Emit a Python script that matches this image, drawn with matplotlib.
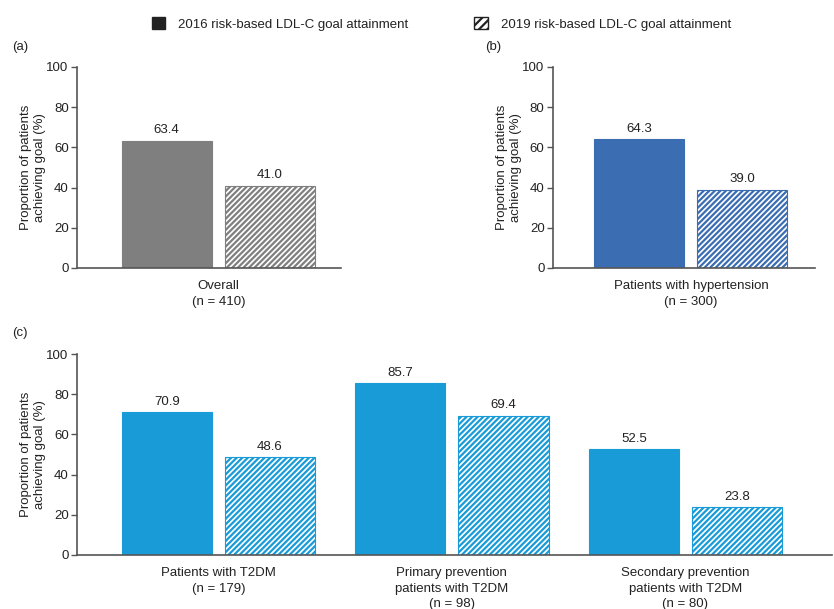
import numpy as np
import matplotlib
matplotlib.use("Agg")
import matplotlib.pyplot as plt
from matplotlib.patches import Patch

plt.rcParams['font.family'] = ['Liberation Sans', 'DejaVu Sans']
plt.rcParams['hatch.linewidth'] = 1.6

# data
labels_a = ["Overall\n(n = 410)"]
vals_2016_a = [63.4]
vals_2019_a = [41.0]

labels_b = ["Patients with hypertension\n(n = 300)"]
vals_2016_b = [64.3]
vals_2019_b = [39.0]

labels_c = ["Patients with T2DM\n(n = 179)",
            "Primary prevention\npatients with T2DM\n(n = 98)",
            "Secondary prevention\npatients with T2DM\n(n = 80)"]
vals_2016_c = [70.9, 85.7, 52.5]
vals_2019_c = [48.6, 69.4, 23.8]

legend_labels = ["2016 risk-based LDL-C goal attainment",
                 "2019 risk-based LDL-C goal attainment"]

FS = 9.5
TXT = '#222222'
AX = '#555555'


def draw_panel(ax, labels, v16, v19, color, xlim, spacing=2.33):
    x = np.arange(len(labels)) * spacing
    w = 0.9
    off = 0.515
    b1 = ax.bar(x - off, v16, w, color=color, edgecolor=color, linewidth=0.8)
    b2 = ax.bar(x + off, v19, w, color='white', edgecolor=color,
                hatch='//////', linewidth=0.8)
    for bars in (b1, b2):
        ax.bar_label(bars, fmt='%.1f', padding=3, fontsize=FS, color=TXT)
    ax.set_xlim(*xlim)
    ax.set_ylim(0, 100)
    ax.set_yticks([0, 20, 40, 60, 80, 100])
    ax.set_xticks(x)
    ax.set_xticklabels(labels, fontsize=FS, color=TXT, linespacing=1.35)
    ax.tick_params(axis='x', length=0, pad=9)
    ax.tick_params(axis='y', labelsize=FS, labelcolor=TXT, color=AX,
                   length=4, width=1, pad=2)
    for s in ('top', 'right'):
        ax.spines[s].set_visible(False)
    for s in ('left', 'bottom'):
        ax.spines[s].set_color(AX)
        ax.spines[s].set_linewidth(1.2)
    ax.set_ylabel("Proportion of patients\nachieving goal (%)", fontsize=FS,
                  color=TXT, labelpad=0, linespacing=1.25)


fig = plt.figure(figsize=(8.34, 6.09), dpi=100)

ax_a = fig.add_axes([0.0923, 0.560, 0.316, 0.330])
ax_b = fig.add_axes([0.663, 0.560, 0.314, 0.330])
ax_c = fig.add_axes([0.0923, 0.0887, 0.905, 0.330])

draw_panel(ax_a, labels_a, vals_2016_a, vals_2019_a, '#7f7f7f', (-1.41, 1.22))
draw_panel(ax_b, labels_b, vals_2016_b, vals_2019_b, '#3b6db3', (-1.38, 1.24))
draw_panel(ax_c, labels_c, vals_2016_c, vals_2019_c, '#189bd7', (-1.41, 6.12))

fig.text(0.014, 1 - 47 / 609, "(a)", fontsize=FS, color=TXT, va='center')
fig.text(0.582, 1 - 47 / 609, "(b)", fontsize=FS, color=TXT, va='center')
fig.text(0.014, 1 - 333 / 609, "(c)", fontsize=FS, color=TXT, va='center')

handles = [Patch(facecolor='#222222', edgecolor='#222222'),
           Patch(facecolor='white', edgecolor='#222222', hatch='////')]
fig.legend(handles, legend_labels, loc='center left', ncol=2,
           bbox_to_anchor=(140 / 834, 1 - 24 / 609), frameon=False,
           fontsize=FS, handlelength=1.0, handleheight=1.0,
           handletextpad=1.0, columnspacing=5.0, labelcolor=TXT)

fig.savefig("out.png", dpi=100)
